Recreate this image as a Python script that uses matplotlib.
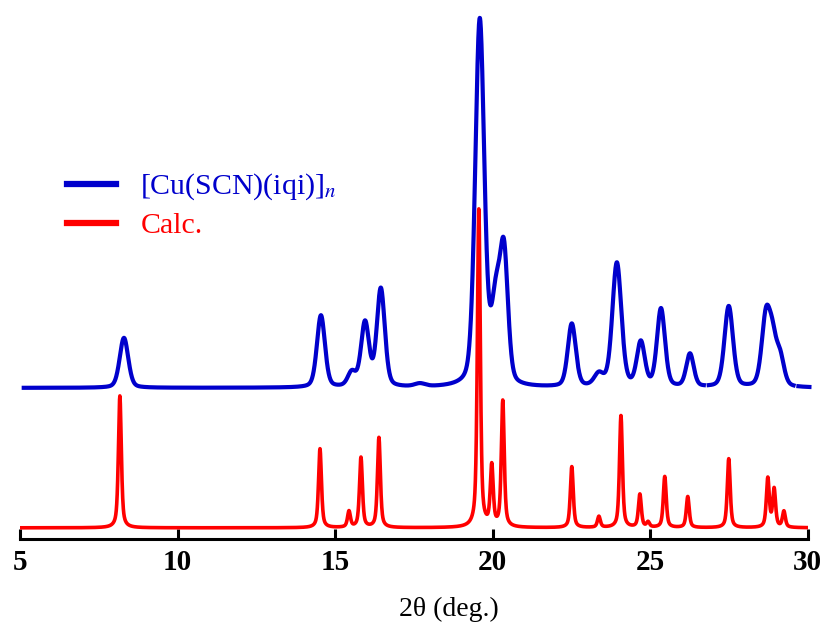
import numpy as np
import matplotlib.pyplot as plt

plt.rcParams['font.family'] = ['Liberation Serif', 'DejaVu Serif']
plt.rcParams['mathtext.fontset'] = 'stix'

# calculated pattern: peak positions (2theta) and heights
calc_pos = [8.17, 14.52, 15.44, 15.82, 16.39, 19.56, 19.97, 20.32, 22.51, 23.37,
            24.07, 24.67, 24.93, 25.46, 26.19, 27.49, 28.73, 28.93, 29.24]
calc_int = [132, 79, 16, 70, 90, 318, 60, 126, 61, 11,
            112, 33, 5, 51, 31, 69, 49, 38, 16]
calc_fwhm = 0.11

# experimental pattern: peak positions, heights, widths
exp_pos = [8.30, 14.55, 15.53, 15.95, 16.45, 17.69, 19.59, 20.10, 20.36, 22.51,
           23.37, 23.94, 24.70, 25.34, 26.26, 27.49, 28.67, 28.88, 29.12]
exp_int = [50, 72, 14, 64, 98, 3, 366, 80, 125, 63,
           12, 124, 44, 78, 33, 81, 68, 40, 28]
exp_fwhm = [0.32, 0.30, 0.30, 0.30, 0.30, 0.4, 0.34, 0.34, 0.30, 0.30,
            0.35, 0.34, 0.30, 0.30, 0.28, 0.32, 0.32, 0.30, 0.30]
exp_gaps = [(26.70, 26.85), (29.55, 29.70)]

calc_base = 11
exp_base = 151


def profile(x, pos, hts, fw, eta):
    y = np.zeros_like(x)
    fw = np.broadcast_to(fw, len(pos))
    for p, h, w in zip(pos, hts, fw):
        g = np.exp(-4 * np.log(2) * ((x - p) / w) ** 2)
        l = 1 / (1 + 4 * ((x - p) / w) ** 2)
        y += h * (eta * l + (1 - eta) * g)
    return y


x_calc = np.linspace(5.0, 30.0, 5001)
y_calc = calc_base + profile(x_calc, calc_pos, calc_int, calc_fwhm, 0.6)

x_exp = np.linspace(5.12, 30.05, 5001)
y_exp = exp_base + profile(x_exp, exp_pos, exp_int, exp_fwhm, 0.3)
for a, b in exp_gaps:
    y_exp[(x_exp > a) & (x_exp < b)] = np.nan

fig = plt.figure(figsize=(8.25, 6.28), dpi=100)
ax = fig.add_axes([0.0242, 0.142, 0.955, 0.842])

ax.plot(x_exp, y_exp, color='#0000CC', lw=3.0, label=r'[Cu(SCN)(iqi)]$_{\mathit{n}}$', clip_on=False)
ax.plot(x_calc, y_calc, color='#FF0000', lw=2.6, label='Calc.')

ax.set_xlim(5, 30)
ax.set_ylim(0, 529)
ax.set_xticks([5, 10, 15, 20, 25, 30])
ax.set_yticks([])
for s in ['top', 'right', 'left']:
    ax.spines[s].set_visible(False)
ax.spines['bottom'].set_linewidth(2.2)
ax.tick_params(axis='x', direction='in', length=7, width=2.2, labelsize=21, pad=7)
for t in ax.get_xticklabels():
    t.set_fontweight('bold')
ax.set_xlabel('2θ (deg.)', fontsize=20)
ax.xaxis.set_label_coords(0.544, -0.11)

leg = ax.legend(loc='upper left', bbox_to_anchor=(0.025, 0.745), frameon=False,
                fontsize=21.5, handlelength=1.67, handletextpad=0.8, labelspacing=0.33,
                labelcolor='linecolor')
for h in leg.get_lines():
    h.set_linewidth(4.5)

fig.savefig('out.png', dpi=100)
